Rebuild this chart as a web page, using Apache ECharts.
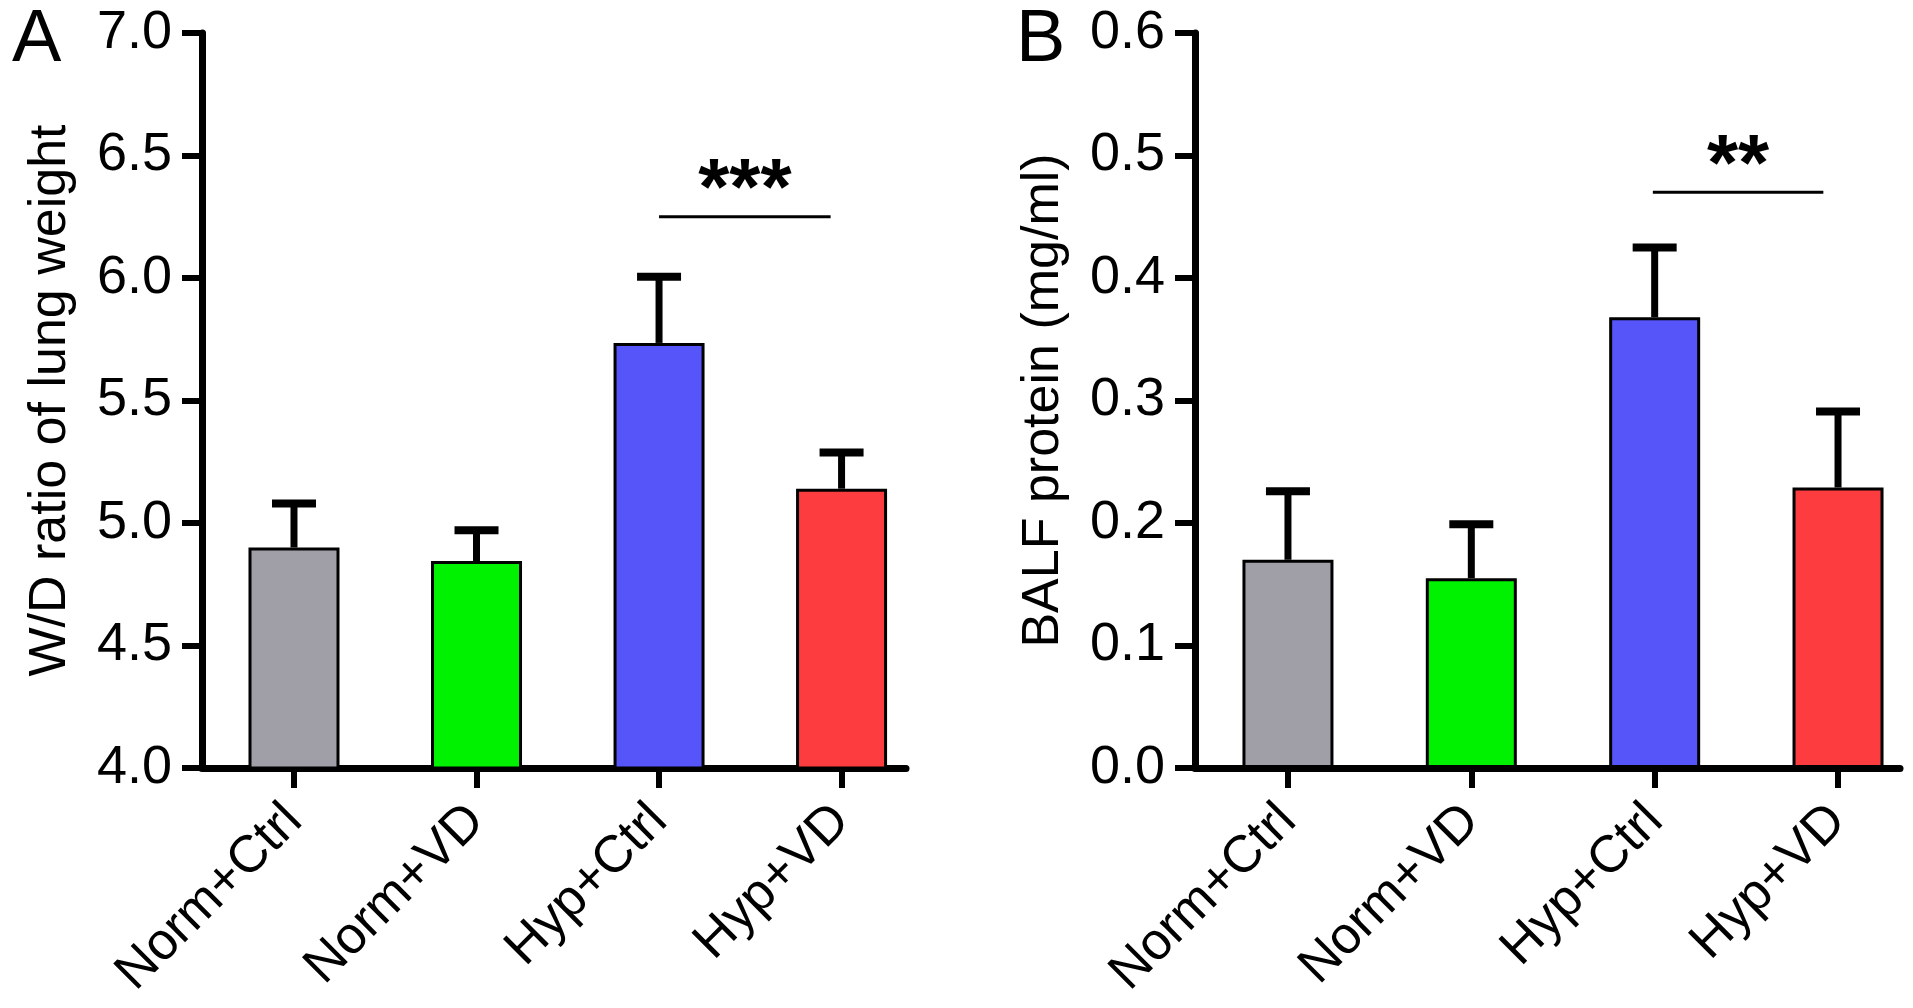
<!DOCTYPE html>
<html>
<head>
<meta charset="utf-8">
<script src="https://cdn.jsdelivr.net/npm/echarts@6/dist/echarts.min.js"></script>
<style>
html,body{margin:0;padding:0;background:#fff;}
#c{width:1913px;height:1008px;}
</style>
</head>
<body>
<div id="c"></div>
<script>
// ---- data ----
var categories = ['Norm+Ctrl', 'Norm+VD', 'Hyp+Ctrl', 'Hyp+VD'];
var positions = [0, 1, 2, 3];
var barColors = ['#a09fa7', '#00f200', '#5555f9', '#fd3c3f'];

var meanA = [4.90, 4.845, 5.735, 5.14];
var sdA   = [0.18, 0.125, 0.27, 0.148];
var ticksA = [4.0, 4.5, 5.0, 5.5, 6.0, 6.5, 7.0];

var meanB = [0.170, 0.155, 0.368, 0.229];
var sdB   = [0.056, 0.044, 0.057, 0.062];
var ticksB = [0.0, 0.1, 0.2, 0.3, 0.4, 0.5, 0.6];

// significance annotations: [xFrom, xTo, yLine, yText]
var sigA = [2.0, 2.94, 6.25, 6.35];
var sigALabel = '***';
var sigB = [1.99, 2.92, 0.47, 0.49];
var sigBLabel = '**';

var titleA = 'W/D ratio of lung weight';
var titleB = 'BALF protein (mg/ml)';

// ---- chart ----
var FONT = "'Liberation Sans', Arial, sans-serif";
var NARROW = "'Liberation Sans Narrow', 'Arial Narrow', 'Liberation Sans', Arial, sans-serif";
var chart = echarts.init(document.getElementById('c'), null, {renderer: 'canvas'});

function barData(means) {
  return means.map(function (m, i) {
    return { value: [positions[i], m], itemStyle: { color: barColors[i] } };
  });
}
function errData(means, sds) {
  return means.map(function (m, i) { return [positions[i], m, m + sds[i]]; });
}
function errRender(params, api) {
  var p0 = api.coord([api.value(0), api.value(1)]);
  var p1 = api.coord([api.value(0), api.value(2)]);
  var half = 22;
  var st = { stroke: '#000', lineWidth: 7 };
  return {
    type: 'group',
    children: [
      { type: 'line', shape: { x1: p0[0], y1: p0[1], x2: p1[0], y2: p1[1] }, style: st },
      { type: 'line', shape: { x1: p1[0] - half, y1: p1[1], x2: p1[0] + half, y2: p1[1] }, style: { stroke: '#000', lineWidth: 8 } }
    ]
  };
}
function sigRender(label) {
  return function (params, api) {
    var a = api.coord([api.value(0), api.value(2)]);
    var b = api.coord([api.value(1), api.value(2)]);
    var t = api.coord([(api.value(0) + api.value(1)) / 2, api.value(3)]);
    return {
      type: 'group',
      children: [
        { type: 'line', shape: { x1: a[0], y1: a[1], x2: b[0], y2: b[1] }, style: { stroke: '#000', lineWidth: 3 } },
        { type: 'text', style: { text: label, x: t[0], y: t[1], fill: '#000', font: 'bold 80px ' + FONT, align: 'center', verticalAlign: 'middle' } }
      ]
    };
  };
}

function xAxisCfg(idx, min, max) {
  return {
    type: 'value', gridIndex: idx, min: min, max: max,
    splitLine: { show: false },
    axisLine: { show: true, onZero: false, lineStyle: { color: '#000', width: 7 } },
    axisTick: { show: true, customValues: positions, length: 20, inside: false, lineStyle: { color: '#000', width: 6 } },
    axisLabel: {
      show: true, customValues: positions, rotate: 45, margin: 45,
      color: '#000', fontSize: 52, fontFamily: FONT,
      formatter: function (v) { return categories[Math.round(v)]; }
    }
  };
}
function yAxisCfg(idx, min, max, interval, name) {
  return {
    type: 'value', gridIndex: idx, min: min, max: max, interval: interval,
    name: name, nameLocation: 'middle', nameGap: 125,
    nameTextStyle: { color: '#000', fontSize: 52, fontFamily: FONT },
    splitLine: { show: false },
    axisLine: { show: true, onZero: false, lineStyle: { color: '#000', width: 7 } },
    axisTick: { show: true, length: 20, lineStyle: { color: '#000', width: 6 } },
    axisLabel: {
      margin: 30, color: '#000', fontSize: 54, fontFamily: NARROW,
      formatter: function (v) { return v.toFixed(1); }
    }
  };
}

var option = {
  backgroundColor: '#fff',
  animation: false,
  grid: [
    { left: 202, top: 33, width: 704, bottom: 240 },
    { left: 1195, top: 33, width: 705, bottom: 240 }
  ],
  xAxis: [xAxisCfg(0, -0.504, 3.353), xAxisCfg(1, -0.507, 3.338)],
  yAxis: [
    yAxisCfg(0, ticksA[0], ticksA[ticksA.length - 1], 0.5, titleA),
    yAxisCfg(1, ticksB[0], ticksB[ticksB.length - 1], 0.1, titleB)
  ],
  graphic: [
    { type: 'text', left: 12, top: 4, style: { text: 'A', font: '74px ' + FONT, fill: '#000' } },
    { type: 'text', left: 1016, top: 4, style: { text: 'B', font: '74px ' + FONT, fill: '#000' } }
  ],
  series: [
    { type: 'bar', xAxisIndex: 0, yAxisIndex: 0, barWidth: 91, data: barData(meanA),
      itemStyle: { borderColor: '#000', borderWidth: 3 } },
    { type: 'custom', xAxisIndex: 0, yAxisIndex: 0, renderItem: errRender, data: errData(meanA, sdA), z: 3 },
    { type: 'custom', xAxisIndex: 0, yAxisIndex: 0, renderItem: sigRender(sigALabel), data: [sigA], z: 3 },
    { type: 'bar', xAxisIndex: 1, yAxisIndex: 1, barWidth: 91, data: barData(meanB),
      itemStyle: { borderColor: '#000', borderWidth: 3 } },
    { type: 'custom', xAxisIndex: 1, yAxisIndex: 1, renderItem: errRender, data: errData(meanB, sdB), z: 3 },
    { type: 'custom', xAxisIndex: 1, yAxisIndex: 1, renderItem: sigRender(sigBLabel), data: [sigB], z: 3 }
  ]
};
chart.setOption(option);
</script>
</body>
</html>
